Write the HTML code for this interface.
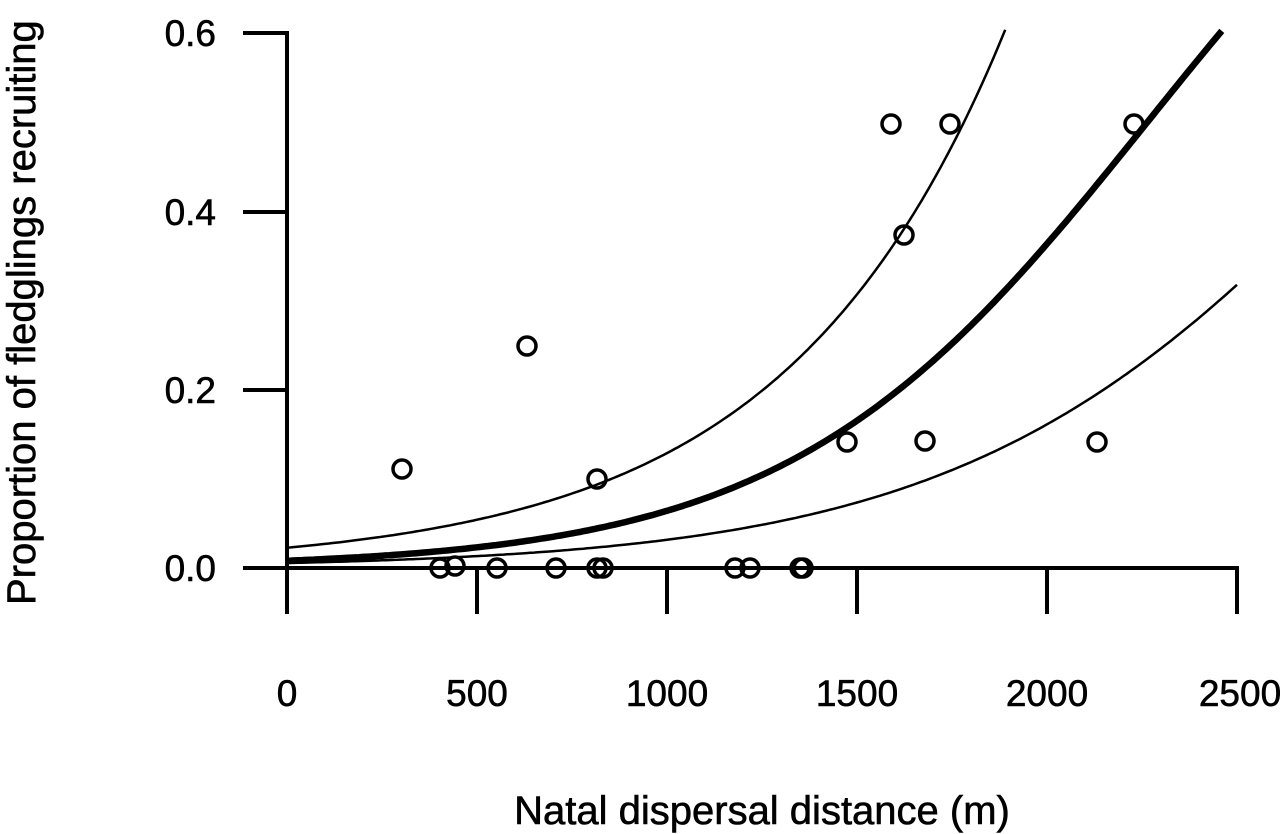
<!DOCTYPE html>
<html><head><style>body{margin:0;background:#fff}svg{display:block}</style></head><body>
<svg width="1280" height="834" viewBox="0 0 1280 834" xmlns="http://www.w3.org/2000/svg" font-family="Liberation Sans, Arial, sans-serif">
<rect width="1280" height="834" fill="#fff"/>
<g stroke="#000" stroke-width="4" fill="none" stroke-linecap="butt">
<line x1="287" y1="31" x2="287" y2="614"/>
<line x1="243" y1="33" x2="287" y2="33"/>
<line x1="243" y1="212" x2="287" y2="212"/>
<line x1="243" y1="390" x2="287" y2="390"/>
<line x1="243" y1="568" x2="1239" y2="568"/>
<line x1="477" y1="568" x2="477" y2="614"/>
<line x1="667" y1="568" x2="667" y2="614"/>
<line x1="857" y1="568" x2="857" y2="614"/>
<line x1="1047" y1="568" x2="1047" y2="614"/>
<line x1="1237" y1="568" x2="1237" y2="614"/>
</g>
<g font-size="37" text-anchor="end" fill="#000" stroke="#000" stroke-width="0.6">
<text x="216" y="46">0.6</text>
<text x="216" y="225">0.4</text>
<text x="216" y="403">0.2</text>
<text x="216" y="581">0.0</text>
</g>
<g font-size="37" text-anchor="middle" fill="#000" stroke="#000" stroke-width="0.6">
<text x="287" y="706">0</text>
<text x="477" y="706">500</text>
<text x="667" y="706">1000</text>
<text x="857" y="706">1500</text>
<text x="1047" y="706">2000</text>
<text x="1240" y="706">2500</text>
</g>
<text x="762" y="824" font-size="40" text-anchor="middle" stroke="#000" stroke-width="0.6">Natal dispersal distance (m)</text>
<text transform="translate(35,605) rotate(-90)" font-size="40" stroke="#000" stroke-width="0.6">Proportion of fledglings recruiting</text>
<g id="curves" fill="none" stroke="#000"></g>
<g id="pts" fill="none" stroke="#000" stroke-width="3.5"></g>
<script>
function path(f){let d="";for(let m=0;m<=2500;m+=10){const p=f(m);const x=287+m*0.38,y=568-p*891.7;d+=(d?"L":"M")+x.toFixed(1)+","+y.toFixed(1);if(y<33)break;}return d;}
const lg=(a,b)=>m=>1/(1+Math.exp(-(a+b*m)));
const ex=(a,b)=>m=>Math.exp(a+b*m);
const g=document.getElementById("curves");
[[ex(-3.784,0.001735),2.5],[lg(-4.80,0.00212),6.5],[lg(-5.19,0.00177),2.5]].forEach(c=>{const p=document.createElementNS("http://www.w3.org/2000/svg","path");p.setAttribute("d",path(c[0]));p.setAttribute("stroke-width",c[1]);g.appendChild(p);});
const pts=[[402,469],[527,346],[597,479],[891,124],[950,124],[904,235],[1134,124],[847,442],[925,441],[1097,442],[440,568],[455,566],[497,568],[556,568],[597,568],[603,568],[735,568],[750,568],[800,568],[803,568]];
const pg=document.getElementById("pts");
pts.forEach(q=>{const c=document.createElementNS("http://www.w3.org/2000/svg","circle");c.setAttribute("cx",q[0]);c.setAttribute("cy",q[1]);c.setAttribute("r",9);pg.appendChild(c);});
</script>
</svg>
</body></html>
